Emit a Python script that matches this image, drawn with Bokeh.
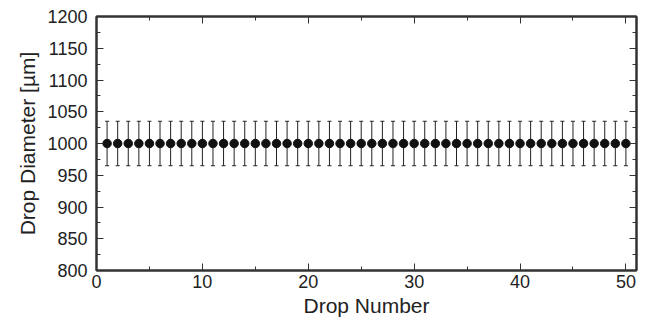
from bokeh.plotting import figure
from bokeh.models import ColumnDataSource, Whisker, TeeHead, LinearAxis, Range1d, SingleIntervalTicker, Title
from bokeh.embed import file_html
from bokeh.resources import INLINE

drop_number = [1, 2, 3, 4, 5, 6, 7, 8, 9, 10, 11, 12, 13, 14, 15, 16, 17, 18, 19, 20,
               21, 22, 23, 24, 25, 26, 27, 28, 29, 30, 31, 32, 33, 34, 35, 36, 37, 38, 39, 40,
               41, 42, 43, 44, 45, 46, 47, 48, 49, 50]
diameter = [1000] * 50
diameter_err = [35] * 50

x_ticks = [0, 10, 20, 30, 40, 50]
y_ticks = [800, 850, 900, 950, 1000, 1050, 1100, 1150, 1200]

lower = [d - e for d, e in zip(diameter, diameter_err)]
upper = [d + e for d, e in zip(diameter, diameter_err)]
src = ColumnDataSource(dict(x=drop_number, y=diameter, lo=lower, hi=upper))

FONT = "Liberation Sans"
AX = "#333333"
TXT = "#222222"

p = figure(width=646, height=320, output_backend="svg", toolbar_location=None,
           x_range=Range1d(0, 51), y_range=Range1d(800, 1200),
           min_border_left=96, min_border_right=10, min_border_top=16, min_border_bottom=50,
           background_fill_color="white", border_fill_color="white")
p.grid.visible = False
p.outline_line_color = AX
p.outline_line_width = 2

def style(ax):
    ax.axis_line_color = AX
    ax.axis_line_width = 2
    ax.major_tick_in = 7
    ax.major_tick_out = 0
    ax.minor_tick_in = 4
    ax.minor_tick_out = 0
    ax.major_tick_line_color = AX
    ax.minor_tick_line_color = AX
    ax.major_tick_line_width = 1
    ax.minor_tick_line_width = 1
    ax.major_label_text_font = FONT
    ax.major_label_text_font_size = "18px"
    ax.major_label_text_color = TXT
    ax.axis_label_text_font = FONT
    ax.axis_label_text_font_size = "21px"
    ax.axis_label_text_font_style = "normal"
    ax.axis_label_text_color = TXT

p.xaxis.ticker = SingleIntervalTicker(interval=10, num_minor_ticks=2)
p.yaxis.ticker = SingleIntervalTicker(interval=50, num_minor_ticks=2)
style(p.xaxis[0])
style(p.yaxis[0])
p.xaxis.axis_label = "Drop Number"
p.xaxis.major_label_standoff = 4
p.yaxis.major_label_standoff = 9
p.xaxis.axis_label_standoff = 3

top = LinearAxis(ticker=SingleIntervalTicker(interval=10, num_minor_ticks=2))
right = LinearAxis(ticker=SingleIntervalTicker(interval=50, num_minor_ticks=2))
style(top)
style(right)
top.major_label_overrides = {t: "" for t in x_ticks}
right.major_label_overrides = {t: "" for t in y_ticks}
top.major_label_standoff = 0
right.major_label_standoff = 0
p.add_layout(top, "above")
p.add_layout(right, "right")

ytitle = Title(text="Drop Diameter [µm]", align="center",
               text_font=FONT, text_font_size="21px", text_font_style="normal",
               text_color=TXT, standoff=12)
p.add_layout(ytitle, "left")

w = Whisker(source=src, base="x", lower="lo", upper="hi",
            line_color=TXT, line_width=1,
            upper_head=TeeHead(size=4, line_color=TXT, line_width=1),
            lower_head=TeeHead(size=4, line_color=TXT, line_width=1))
p.add_layout(w)
p.scatter("x", "y", source=src, size=8.5, color="#111111")

open("out.html", "w").write(file_html(p, INLINE))
